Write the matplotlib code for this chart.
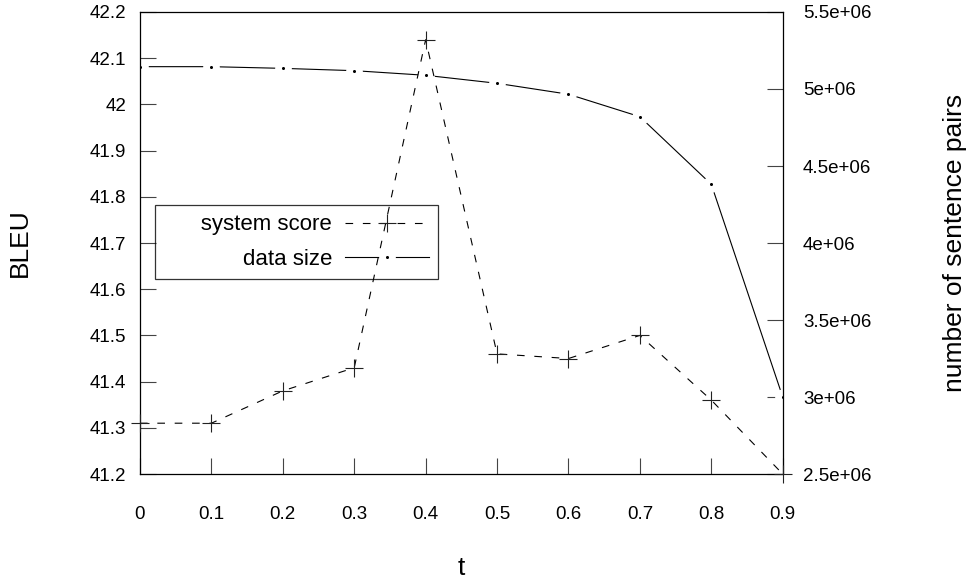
import matplotlib.pyplot as plt
from matplotlib.legend_handler import HandlerTuple
from matplotlib.ticker import FuncFormatter

plt.rcParams['font.family'] = ['Liberation Sans', 'DejaVu Sans']
plt.rcParams['lines.scale_dashes'] = False

# data
t = [0, 0.1, 0.2, 0.3, 0.4, 0.5, 0.6, 0.7, 0.8, 0.9]
bleu = [41.31, 41.31, 41.38, 41.43, 42.14, 41.46, 41.45, 41.50, 41.36, 41.20]
pairs = [5.145e6, 5.145e6, 5.134e6, 5.119e6, 5.089e6, 5.037e6, 4.966e6, 4.820e6, 4.381e6, 3.0e6]

x_ticks = [0, 0.1, 0.2, 0.3, 0.4, 0.5, 0.6, 0.7, 0.8, 0.9]
bleu_ticks = [41.2, 41.3, 41.4, 41.5, 41.6, 41.7, 41.8, 41.9, 42.0, 42.1, 42.2]
pairs_ticks = [2.5e6, 3.0e6, 3.5e6, 4.0e6, 4.5e6, 5.0e6, 5.5e6]

fig = plt.figure(figsize=(9.68, 5.85), dpi=100)
ax = fig.add_axes([0.1446, 0.1897, 0.6640, 0.7898])
ax2 = ax.twinx()
ax.set_zorder(ax2.get_zorder() + 1)  # score line drawn above the size line
ax.patch.set_visible(False)

# data size: solid line, broken around each point, small dot at point
size_line, = ax2.plot(t, pairs, color='black', lw=0.8, zorder=2)
halo, = ax2.plot(t, pairs, ls='none', marker='o', ms=11, mfc='white', mec='white', zorder=2.1)
dots, = ax2.plot(t, pairs, ls='none', marker='o', ms=2.2, mfc='black', mec='black', mew=0, zorder=2.2)

# system score: dashed line with + marks
score, = ax.plot(t, bleu, color='black', lw=0.8, ls=(0, (5.5, 7)), marker='+', ms=13,
                 mew=0.8, mec='#222', clip_on=False, zorder=3)

ax.set_xlim(0, 0.9)
ax.set_ylim(41.2, 42.2)
ax2.set_ylim(2.5e6, 5.5e6)
ax.set_xticks(x_ticks)
ax.set_yticks(bleu_ticks)
ax2.set_yticks(pairs_ticks)
ax.xaxis.set_major_formatter(FuncFormatter(lambda v, p: '%g' % round(v, 3)))
ax.yaxis.set_major_formatter(FuncFormatter(lambda v, p: '%g' % round(v, 3)))
ax2.yaxis.set_major_formatter(FuncFormatter(lambda v, p: '%g' % v))

ax.tick_params(axis='both', direction='in', length=11.5, width=0.8, color='#444', labelsize=13.5)
ax.tick_params(axis='y', pad=10, left=True, right=False)
ax.tick_params(axis='x', pad=23, top=False)
ax2.tick_params(axis='y', direction='in', length=11.5, width=0.8, color='#444', labelsize=13.5, pad=14.5)

for s in ax.spines.values():
    s.set_linewidth(0.9)
for s in ax2.spines.values():
    s.set_visible(False)

ax.set_xlabel('t', fontsize=19)
ax.xaxis.set_label_coords(0.5, -0.2035)
ax.xaxis.label.set_va('center')
ax.set_ylabel('BLEU', fontsize=19)
ax.yaxis.set_label_coords(-0.187, 0.5)
ax.yaxis.label.set_va('center')
ax2.set_ylabel('number of sentence pairs', fontsize=19, rotation=90)
ax2.yaxis.set_label_coords(1.268, 0.5)
ax2.yaxis.label.set_va('center')

leg = ax.legend([score, (size_line, halo, dots)], ['      system score', 'data size'],
                handler_map={tuple: HandlerTuple(ndivide=1, pad=0)},
                loc='upper left', bbox_to_anchor=(155 / 968, 1 - 205 / 585),
                bbox_transform=fig.transFigure, borderaxespad=0, markerfirst=False,
                fontsize=16, handlelength=3.75, handletextpad=0.6, labelspacing=0.62,
                borderpad=0.42, fancybox=False, facecolor='none', edgecolor='black',
                numpoints=1)
leg.get_frame().set_linewidth(0.9)

fig.savefig('out.png', dpi=100)
